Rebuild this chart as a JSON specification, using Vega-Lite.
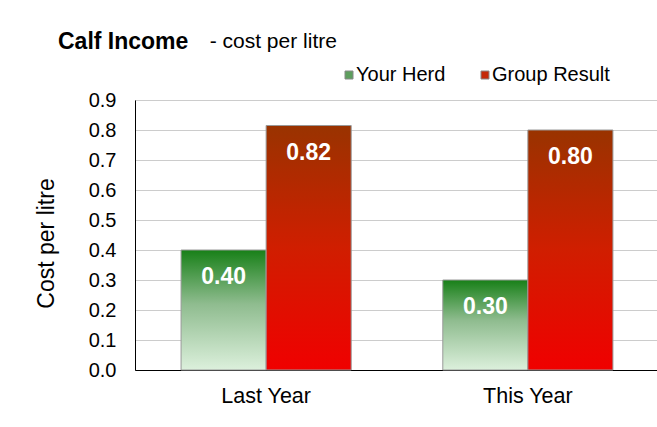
{
  "$schema": "https://vega.github.io/schema/vega-lite/v6.json",
  "width": 524,
  "height": 270,
  "autosize": {"type": "none"},
  "padding": {"left": 135, "top": 100, "right": 0, "bottom": 57},
  "background": "white",
  "config": {"font": "Liberation Sans", "view": {"stroke": "#888888"}},
  "title": {
    "text": "Calf Income",
    "subtitle": "\u200b\u00a0\u00a0\u00a0\u00a0\u00a0\u00a0\u00a0\u00a0\u00a0\u00a0\u00a0\u00a0\u00a0\u00a0\u00a0\u00a0\u00a0\u00a0\u00a0\u00a0\u00a0\u00a0\u00a0\u00a0\u00a0\u00a0- cost per litre",
    "anchor": "start",
    "frame": "group",
    "fontSize": 23,
    "fontWeight": "bold",
    "color": "black",
    "subtitleFontSize": 21,
    "subtitleColor": "black",
    "subtitlePadding": -23,
    "dx": -77,
    "dy": -7
  },
  "data": {
    "values": [
      {"period": "Last Year", "series": "Your Herd", "cost": 0.40, "label": "0.40"},
      {"period": "Last Year", "series": "Group Result", "cost": 0.815, "label": "0.82"},
      {"period": "This Year", "series": "Your Herd", "cost": 0.30, "label": "0.30"},
      {"period": "This Year", "series": "Group Result", "cost": 0.80, "label": "0.80"}
    ]
  },
  "encoding": {
    "x": {
      "field": "period",
      "type": "nominal",
      "sort": ["Last Year", "This Year"],
      "scale": {"paddingInner": 0.35, "paddingOuter": 0.176},
      "axis": {
        "title": null,
        "labelFontSize": 21.5,
        "labelColor": "black",
        "labelPadding": 15,
        "labelAngle": 0,
        "ticks": false,
        "domainColor": "black"
      }
    },
    "xOffset": {
      "field": "series",
      "type": "nominal",
      "sort": ["Your Herd", "Group Result"],
      "scale": {"paddingInner": 0, "paddingOuter": 0}
    },
    "y": {
      "field": "cost",
      "type": "quantitative",
      "scale": {"domain": [0, 0.9], "nice": false},
      "axis": {
        "title": "Cost per litre",
        "titleFontSize": 23,
        "titleFontWeight": "normal",
        "titleColor": "black",
        "titleX": -89,
        "titleY": 143,
        "titleBaseline": "middle",
        "values": [0, 0.1, 0.2, 0.3, 0.4, 0.5, 0.6, 0.7, 0.8, 0.9],
        "format": ".1f",
        "labelFontSize": 20,
        "labelColor": "black",
        "labelPadding": 19,
        "ticks": false,
        "domainColor": "black",
        "gridColor": "#cccccc"
      }
    }
  },
  "layer": [
    {
      "mark": {"type": "bar", "stroke": "#999999", "strokeWidth": 1},
      "encoding": {
        "fill": {
          "condition": {
            "test": "datum.series === 'Your Herd'",
            "value": {
              "gradient": "linear", "x1": 0, "y1": 0, "x2": 0, "y2": 1,
              "stops": [
                {"offset": 0, "color": "#188018"},
                {"offset": 0.45, "color": "#8fbc8f"},
                {"offset": 1, "color": "#dcf0dc"}
              ]
            }
          },
          "value": {
            "gradient": "linear", "x1": 0, "y1": 0, "x2": 0, "y2": 1,
            "stops": [
              {"offset": 0, "color": "#993300"},
              {"offset": 0.5, "color": "#d01e00"},
              {"offset": 1, "color": "#f00000"}
            ]
          }
        }
      }
    },
    {
      "mark": {"type": "bar", "opacity": 0},
      "encoding": {
        "color": {
          "field": "series",
          "type": "nominal",
          "sort": ["Your Herd", "Group Result"],
          "scale": {"range": ["#5e9e5e", "#c42a0a"]},
          "legend": {
            "orient": "none",
            "legendX": 204,
            "legendY": -35,
            "direction": "horizontal",
            "title": null,
            "symbolType": "square",
            "symbolSize": 64,
            "symbolOpacity": 1,
            "symbolStrokeColor": "#888888",
            "symbolStrokeWidth": 1,
            "labelFontSize": 20,
            "labelColor": "black",
            "labelOffset": -3,
            "columnPadding": 29
          }
        }
      }
    },
    {
      "mark": {"type": "text", "color": "white", "fontWeight": "bold", "fontSize": 23, "baseline": "alphabetic", "dy": 34},
      "encoding": {"text": {"field": "label"}}
    }
  ]
}
